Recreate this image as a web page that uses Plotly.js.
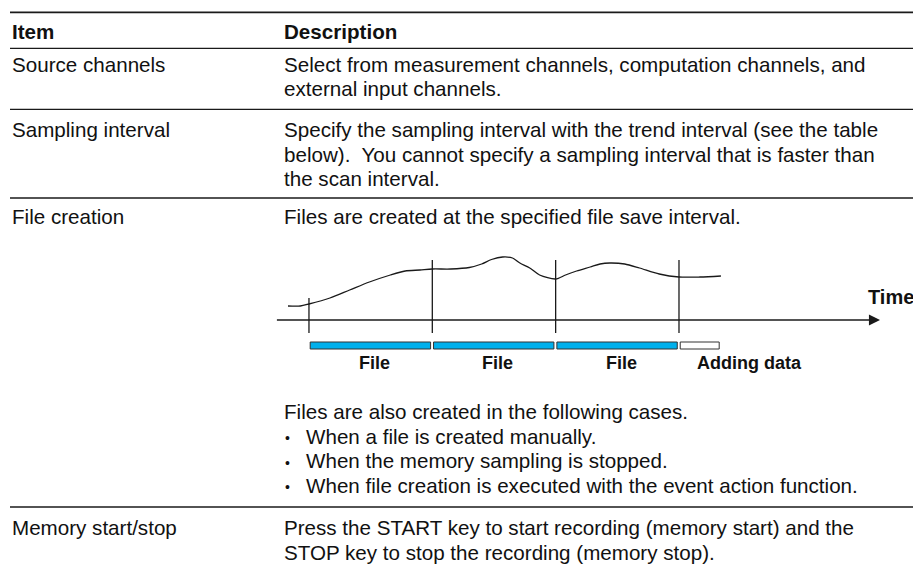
<!DOCTYPE html>
<html><head><meta charset="utf-8">
<script src="https://cdn.plot.ly/plotly-3.0.1.min.js"></script>
<style>html,body{margin:0;padding:0;background:#fff;overflow:hidden}#chart{width:913px;height:565px}</style>
</head><body><div id="chart"></div>
<script>
// ---- table text ----
const headers = ["Item", "Description"];
const itemNames = ["Source channels", "Sampling interval", "File creation", "Memory start/stop"];
const sourceText = ["Select from measurement channels, computation channels, and", "external input channels."];
const samplingText = ["Specify the sampling interval with the trend interval (see the table", "below).  You cannot specify a sampling interval that is faster than", "the scan interval."];
const fileIntro = ["Files are created at the specified file save interval."];
const fileCasesIntro = ["Files are also created in the following cases."];
const fileCases = ["When a file is created manually.", "When the memory sampling is stopped.", "When file creation is executed with the event action function."];
const memoryText = ["Press the START key to start recording (memory start) and the", "STOP key to stop the recording (memory stop)."];

// ---- diagram data (time in file-save intervals, signal in arbitrary units) ----
const fileStart = [0, 1, 2, 3];
const fileEnd = [1, 2, 3, 3.34];
const fileLabels = ["File", "File", "File", "Adding data"];
const curveT = [-0.17, -0.07, 0, 0.17, 0.33, 0.49, 0.66, 0.78, 0.9, 1.0, 1.15, 1.3, 1.4, 1.48, 1.57, 1.65, 1.71, 1.79, 1.87, 2.0, 2.08, 2.17, 2.28, 2.36, 2.44, 2.56, 2.68, 2.84, 3.0, 3.17, 3.34];
const curveV = [14, 14, 16, 22, 30, 38, 45, 49, 50, 51, 51, 52.5, 56, 60.5, 63, 62, 57, 52, 45, 41, 45, 49, 53, 56, 57, 56, 52, 46, 43, 43, 44];
const axisLabel = "Time";

// ---- layout constants ----
const FONT = "Liberation Sans, Arial, Helvetica, sans-serif";
const TXT = "#111";
const COL1 = 10, COL2 = 282, LINE = 24.5, FS = 20.6;
const annotations = [];
function txt(x, y, s, opts) {
  opts = opts || {};
  annotations.push({
    xref: opts.xref || 'x', yref: opts.yref || 'y', x: x, y: y, text: s, showarrow: false,
    xanchor: opts.xanchor || 'left', yanchor: 'middle',
    font: {family: FONT, size: opts.size || FS, color: TXT, weight: opts.bold ? 'bold' : 'normal'}
  });
}
function block(x, y0, lines) { lines.forEach((s, i) => txt(x, y0 + i * LINE, s)); }

txt(COL1, 31, headers[0], {bold: true});
txt(COL2, 31, headers[1], {bold: true});
const rowY = [64, 129.5, 216, 527.5];
itemNames.forEach((s, i) => txt(COL1, rowY[i], s));
block(COL2, rowY[0], sourceText);
block(COL2, rowY[1], samplingText);
block(COL2, rowY[2], fileIntro);
block(COL2, 411.5, fileCasesIntro);
fileCases.forEach((s, i) => {
  txt(COL2 + 1, 411.5 + (i + 1) * LINE + 2, "•", {size: 14});
  txt(COL2 + 22, 411.5 + (i + 1) * LINE, s);
});
block(COL2, rowY[3], memoryText);

// diagram labels
fileLabels.forEach((s, i) => {
  if (i < 3) txt((fileStart[i] + fileEnd[i]) / 2 + 0.03, -43, s, {xref: 'x2', yref: 'y2', xanchor: 'center', bold: true, size: 18});
  else txt(fileStart[i] + 0.13, -43, s, {xref: 'x2', yref: 'y2', xanchor: 'left', bold: true, size: 18});
});
txt(4.52, 23, axisLabel, {xref: 'x2', yref: 'y2', bold: true, size: 20});

// ---- traces ----
const ruleYs = [48.3, 109.3, 198, 507];
const rx = [], ry = [];
ruleYs.forEach(y => { rx.push(COL1, 913, null); ry.push(y, y, null); });
const traces = [];
traces.push({type: 'scatter', mode: 'lines', x: [COL1, 913], y: [12.3, 12.3], xaxis: 'x', yaxis: 'y', line: {color: '#1a1a1a', width: 1.8}, hoverinfo: 'skip'});
traces.push({type: 'scatter', mode: 'lines', x: rx, y: ry, xaxis: 'x', yaxis: 'y', line: {color: '#1a1a1a', width: 1.3}, hoverinfo: 'skip'});

// boundary ticks
const markTops = [22, 60, 60, 60];
const vx = [], vy = [];
fileStart.forEach((t, i) => { vx.push(t, t, null); vy.push(-13, markTops[i], null); });
traces.push({type: 'scatter', mode: 'lines', x: vx, y: vy, xaxis: 'x2', yaxis: 'y2', line: {color: '#1a1a1a', width: 1.3}, hoverinfo: 'skip'});
// time axis
traces.push({type: 'scatter', mode: 'lines', x: [-0.26, 4.56], y: [0, 0], xaxis: 'x2', yaxis: 'y2', line: {color: '#1a1a1a', width: 1.4}, hoverinfo: 'skip'});
// curve
traces.push({type: 'scatter', mode: 'lines', x: curveT, y: curveV, xaxis: 'x2', yaxis: 'y2', line: {color: '#1a1a1a', width: 1.3, shape: 'spline', smoothing: 0.8}, hoverinfo: 'skip'});
// file bars
const gapL = 0.01, gapR = 0.014;
traces.push({type: 'bar', orientation: 'h', xaxis: 'x2', yaxis: 'y2',
  base: fileStart.map(t => t + gapL),
  x: fileStart.map((t, i) => fileEnd[i] - t - gapL - gapR),
  y: fileStart.map(() => -25.5), width: 7,
  marker: {color: fileStart.map((t, i) => i < 3 ? '#00B0EC' : '#ffffff'), line: {color: '#333', width: 1}},
  hoverinfo: 'skip'});

const shapes = [{type: 'path', xref: 'x2', yref: 'y2', path: 'M 4.54 5.5 L 4.63 0 L 4.54 -5.5 Z', fillcolor: '#1a1a1a', line: {width: 0}}];

const layout = {
  width: 913, height: 565, margin: {l: 0, r: 0, t: 0, b: 0},
  paper_bgcolor: '#fff', plot_bgcolor: 'rgba(0,0,0,0)', showlegend: false,
  barmode: 'overlay',
  xaxis: {range: [0, 913], visible: false, fixedrange: true, domain: [0, 1]},
  yaxis: {range: [565, 0], visible: false, fixedrange: true, domain: [0, 1]},
  xaxis2: {range: [-0.5, 4.8], domain: [247.3 / 913, 901 / 913], visible: false, anchor: 'y2', fixedrange: true},
  yaxis2: {range: [-45, 75], domain: [200 / 565, 320 / 565], visible: false, anchor: 'x2', fixedrange: true},
  annotations: annotations, shapes: shapes
};
Plotly.newPlot('chart', traces, layout, {displayModeBar: false, staticPlot: true});
</script></body></html>
